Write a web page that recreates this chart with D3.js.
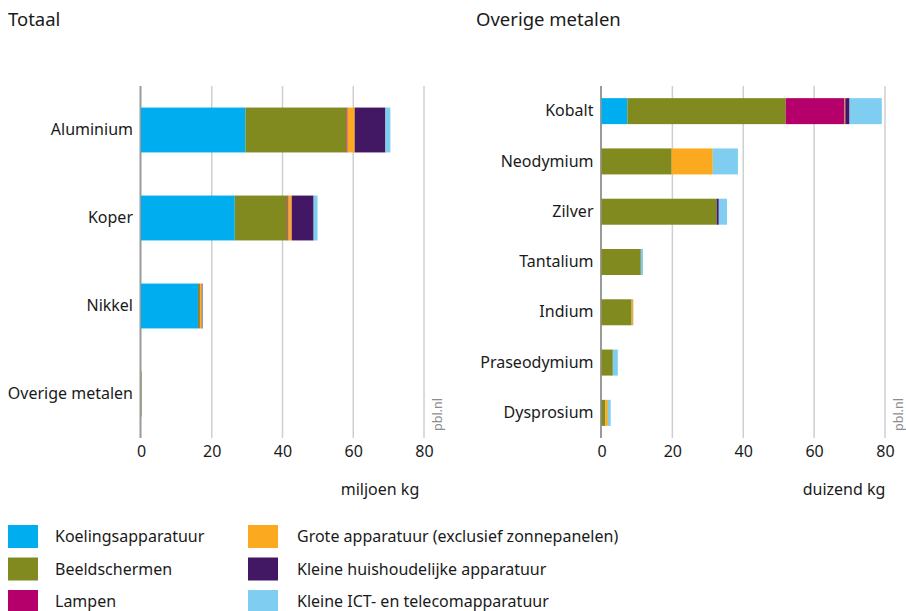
<!DOCTYPE html>
<html>
<head>
<meta charset="utf-8">
<script src="https://cdn.jsdelivr.net/npm/d3@7"></script>
<style>
  body { margin: 0; background: #fff; }
  text { font-family: "Noto Sans", "Open Sans", sans-serif; fill: #1a1a1a; }
</style>
</head>
<body>
<div id="chart-area"></div>
<script>
// series (same order as the stacks)
var seriesKeys = ["Koelingsapparatuur", "Beeldschermen", "Lampen",
    "Grote apparatuur (exclusief zonnepanelen)", "Kleine huishoudelijke apparatuur",
    "Kleine ICT- en telecomapparatuur"];
var seriesColors = ["#00aeef", "#808a1e", "#b5006b", "#fbaa1f", "#421763", "#7fcef2"];

// Totaal, miljoen kg
var totaalCats = ["Aluminium", "Koper", "Nikkel", "Overige metalen"];
var totaalKoeling = [29.5, 26.5, 16.1, 0.01];
var totaalBeeld   = [28.6, 14.9, 0.5, 0.12];
var totaalLampen  = [0.3, 0.3, 0.1, 0.02];
var totaalGrote   = [2.0, 0.9, 0.5, 0.01];
var totaalKleine  = [8.7, 6.2, 0.2, 0.0];
var totaalICT     = [1.4, 1.1, 0.1, 0.02];

// Overige metalen, duizend kg
var overigCats = ["Kobalt", "Neodymium", "Zilver", "Tantalium", "Indium", "Praseodymium", "Dysprosium"];
var overigKoeling = [7.3, 0, 0, 0, 0, 0, 0];
var overigBeeld   = [44.7, 19.8, 32.5, 11.1, 8.5, 3.2, 1.1];
var overigLampen  = [16.6, 0, 0, 0, 0, 0, 0];
var overigGrote   = [0.2, 11.6, 0, 0, 0.4, 0, 0.7];
var overigKleine  = [1.2, 0, 0.6, 0, 0, 0, 0];
var overigICT     = [9.1, 7.1, 2.3, 0.6, 0.1, 1.4, 0.8];

var xTicks = [0, 20, 40, 60, 80];

var svg = d3.select("#chart-area")
    .append("svg")
        .attr("width", 906)
        .attr("height", 611);

function buildRows(cats, cols) {
    return cats.map(function(c, i) {
        var row = { cat: c };
        seriesKeys.forEach(function(k, j) { row[k] = cols[j][i]; });
        return row;
    });
}

function drawPanel(opt) {
    var rows = buildRows(opt.cats, opt.cols);

    var x = d3.scaleLinear()
        .domain([0, 80])
        .range([opt.x0, opt.x1]);

    var y = d3.scaleBand()
        .domain(opt.cats)
        .range([86, 438])
        .paddingInner(opt.pad)
        .paddingOuter(opt.pad / 2);

    var g = svg.append("g");

    // Title
    svg.append("text")
        .attr("x", opt.titleX)
        .attr("y", 26)
        .attr("font-size", "18.5px")
        .text(opt.title);

    // Gridlines
    g.selectAll("line.grid")
        .data(xTicks.filter(function(d) { return d > 0; }))
        .enter().append("line")
            .attr("class", "grid")
            .attr("x1", function(d) { return x(d); })
            .attr("x2", function(d) { return x(d); })
            .attr("y1", 86)
            .attr("y2", 438)
            .attr("stroke", "#cfcfcf")
            .attr("stroke-width", 1.5);

    // Zero line (drawn under the bars)
    g.append("line")
        .attr("x1", x(0) - 0.5).attr("x2", x(0) - 0.5)
        .attr("y1", 86).attr("y2", 438)
        .attr("stroke", "#9a9a9a")
        .attr("stroke-width", 2);

    // Bars
    var stack = d3.stack().keys(seriesKeys)(rows);
    g.selectAll("g.layer")
        .data(stack)
        .enter().append("g")
            .attr("class", "layer")
            .attr("fill", function(d, i) { return seriesColors[i]; })
        .selectAll("rect")
        .data(function(d) { return d; })
        .enter().append("rect")
            .attr("x", function(d) { return x(d[0]); })
            .attr("y", function(d) { return y(d.data.cat); })
            .attr("width", function(d) { return Math.max(0, x(d[1]) - x(d[0])); })
            .attr("height", y.bandwidth());

    // X Axis
    var xAxisCall = d3.axisBottom(x)
        .tickValues(xTicks)
        .tickSize(0)
        .tickPadding(8);
    var xa = g.append("g")
        .attr("transform", "translate(0,438)")
        .call(xAxisCall);
    xa.select(".domain").remove();
    xa.selectAll("text")
        .attr("font-size", "16px")
        .attr("fill", "#1a1a1a")
        .style("font-family", "'Noto Sans', sans-serif");

    // Y Axis
    var yAxisCall = d3.axisLeft(y)
        .tickSize(0)
        .tickPadding(8);
    var ya = g.append("g")
        .attr("transform", "translate(" + opt.x0 + ",0)")
        .call(yAxisCall);
    ya.select(".domain").remove();
    ya.selectAll("text")
        .attr("font-size", "16px")
        .attr("fill", "#1a1a1a")
        .style("font-family", "'Noto Sans', sans-serif");

    // Unit label
    g.append("text")
        .attr("x", opt.unitX)
        .attr("y", 495)
        .attr("font-size", "16px")
        .attr("text-anchor", "middle")
        .text(opt.unit);

    // Source
    g.append("text")
        .attr("transform", "translate(" + (opt.x1 + 18) + ",431) rotate(-90)")
        .attr("font-size", "12.5px")
        .style("fill", "#8c8c8c")
        .text("pbl.nl");
}

drawPanel({
    title: "Totaal", titleX: 8,
    cats: totaalCats,
    cols: [totaalKoeling, totaalBeeld, totaalLampen, totaalGrote, totaalKleine, totaalICT],
    x0: 141, x1: 424, pad: 0.49,
    unit: "miljoen kg", unitX: 380
});

drawPanel({
    title: "Overige metalen", titleX: 476,
    cats: overigCats,
    cols: [overigKoeling, overigBeeld, overigLampen, overigGrote, overigKleine, overigICT],
    x0: 601.5, x1: 885, pad: 0.483,
    unit: "duizend kg", unitX: 844
});

// Legend
var legend = svg.append("g");
var items = legend.selectAll("g")
    .data(seriesKeys)
    .enter().append("g")
        .attr("transform", function(d, i) {
            var col = Math.floor(i / 3), row = i % 3;
            return "translate(" + (col === 0 ? 8 : 248) + "," + (525 + row * 32.5) + ")";
        });

items.append("rect")
    .attr("width", 30)
    .attr("height", 23)
    .attr("fill", function(d, i) { return seriesColors[i]; });

items.append("text")
    .attr("x", function(d, i) { return i < 3 ? 47 : 49; })
    .attr("y", 17)
    .attr("font-size", "16px")
    .text(function(d) { return d; });
</script>
</body>
</html>
